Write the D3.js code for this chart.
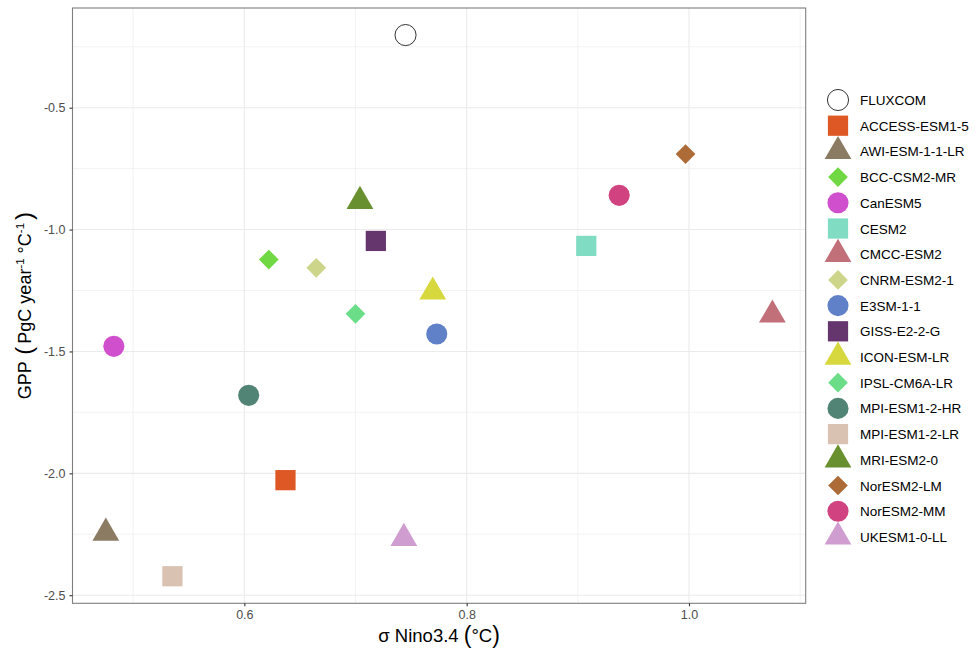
<!DOCTYPE html>
<html>
<head>
<meta charset="utf-8">
<script src="https://cdn.jsdelivr.net/npm/d3@7"></script>
<style>
  html, body { margin: 0; padding: 0; background: #fff; }
  svg { display: block; font-family: "Liberation Sans", Arial, sans-serif; }
</style>
</head>
<body>
<svg id="chart" width="976" height="651"></svg>
<script>
// ENSO amplitude vs GPP sensitivity, one point per model / FLUXCOM
const models = ['FLUXCOM', 'ACCESS-ESM1-5', 'AWI-ESM-1-1-LR', 'BCC-CSM2-MR', 'CanESM5', 'CESM2',
	'CMCC-ESM2', 'CNRM-ESM2-1', 'E3SM-1-1', 'GISS-E2-2-G', 'ICON-ESM-LR', 'IPSL-CM6A-LR',
	'MPI-ESM1-2-HR', 'MPI-ESM1-2-LR', 'MRI-ESM2-0', 'NorESM2-LM', 'NorESM2-MM', 'UKESM1-0-LL'];
const ninoSd = [0.745, 0.637, 0.4754, 0.622, 0.4826, 0.9076,
	1.075, 0.6647, 0.7731, 0.7183, 0.7695, 0.700,
	0.6039, 0.5353, 0.704, 0.9969, 0.9372, 0.7435];
const gppSens = [-0.202, -2.028, -2.2445, -1.123, -1.479, -1.067,
	-1.350, -1.157, -1.4286, -1.0466, -1.2554, -1.3455,
	-1.680, -2.4222, -0.884, -0.6904, -0.8595, -2.2662];
const shapes = ['open', 'square', 'triangle', 'diamond', 'circle', 'square',
	'triangle', 'diamond', 'circle', 'square', 'triangle', 'diamond',
	'circle', 'square', 'triangle', 'diamond', 'circle', 'triangle'];
const colors = ['#000000', '#DD5825', '#8A7B62', '#6FD842', '#CF4FCC', '#80DDC4',
	'#C1707A', '#CDD58B', '#6081C8', '#65366E', '#D7D83E', '#6BDD88',
	'#518474', '#D9C2B2', '#69902F', '#AD6B38', '#D14380', '#CF9DCF'];
const xTicks = [0.6, 0.8, 1.0];
const xMinor = [0.5, 0.7, 0.9, 1.1];
const yTicks = [-0.5, -1.0, -1.5, -2.0, -2.5];
const yMinor = [-0.25, -0.75, -1.25, -1.75, -2.25];

const data = models.map((m, i) => ({ model: m, x: ninoSd[i], y: gppSens[i], shape: shapes[i], color: colors[i] }));

const svg = d3.select('#chart');
const panel = { left: 72.5, right: 805.7, top: 8, bottom: 603.3 };

// ggplot-style 5% expansion of the data range
const expand = ext => { const p = (ext[1] - ext[0]) * 0.05; return [ext[0] - p, ext[1] + p]; };
const x = d3.scaleLinear().domain(expand(d3.extent(ninoSd))).range([panel.left, panel.right]);
const y = d3.scaleLinear().domain(expand(d3.extent(gppSens))).range([panel.bottom, panel.top]);

const symbolPath = (shape) => {
	if (shape === 'triangle') return d3.symbol(d3.symbolTriangle, 310)();
	if (shape === 'square') return d3.symbol(d3.symbolSquare, 410)();
	if (shape === 'diamond') return d3.symbol(d3.symbolSquare, 194)();
	return d3.symbol(d3.symbolCircle, 350)();
};
const drawSymbol = (sel, d) => {
	const p = sel.append('path').attr('d', symbolPath(d.shape));
	if (d.shape === 'diamond') p.attr('transform', 'rotate(45)');
	if (d.shape === 'open') p.attr('fill', 'none').attr('stroke', '#000').attr('stroke-width', 0.8);
	else p.attr('fill', d.color);
};

// Grid
const grid = svg.append('g');
grid.selectAll('line.ymin').data(yMinor).join('line')
	.attr('x1', panel.left).attr('x2', panel.right).attr('y1', d => y(d)).attr('y2', d => y(d))
	.attr('stroke', '#ebebeb').attr('stroke-width', 0.6);
grid.selectAll('line.xmin').data(xMinor).join('line')
	.attr('y1', panel.top).attr('y2', panel.bottom).attr('x1', d => x(d)).attr('x2', d => x(d))
	.attr('stroke', '#ebebeb').attr('stroke-width', 0.6);
grid.selectAll('line.ymaj').data(yTicks).join('line')
	.attr('x1', panel.left).attr('x2', panel.right).attr('y1', d => y(d)).attr('y2', d => y(d))
	.attr('stroke', '#ebebeb').attr('stroke-width', 1.1);
grid.selectAll('line.xmaj').data(xTicks).join('line')
	.attr('y1', panel.top).attr('y2', panel.bottom).attr('x1', d => x(d)).attr('x2', d => x(d))
	.attr('stroke', '#ebebeb').attr('stroke-width', 1.1);

// Points
data.forEach(d => {
	const g = svg.append('g').attr('transform', 'translate(' + x(d.x) + ',' + y(d.y) + ')');
	drawSymbol(g, d);
});

// Panel border
svg.append('rect')
	.attr('x', panel.left).attr('y', panel.top)
	.attr('width', panel.right - panel.left).attr('height', panel.bottom - panel.top)
	.attr('fill', 'none').attr('stroke', '#7f7f7f').attr('stroke-width', 1.1);

// Axes (labels use a plain hyphen like R does)
const fmt = v => v.toFixed(1);
const styleAxis = ax => {
	ax.select('.domain').remove();
	ax.selectAll('line').attr('stroke', '#333').attr('stroke-width', 1.1);
	ax.selectAll('text').attr('font-size', 12.5).attr('fill', '#4d4d4d')
		.attr('font-family', '"Liberation Sans", Arial, sans-serif');
};
svg.append('g')
	.attr('transform', 'translate(0,' + panel.bottom + ')')
	.call(d3.axisBottom(x).tickValues(xTicks).tickFormat(fmt).tickSize(3).tickPadding(4))
	.call(styleAxis);
svg.append('g')
	.attr('transform', 'translate(' + panel.left + ',0)')
	.call(d3.axisLeft(y).tickValues(yTicks).tickFormat(fmt).tickSize(3).tickPadding(4))
	.call(styleAxis);

// Axis titles
const xt = svg.append('text')
	.attr('x', (panel.left + panel.right) / 2).attr('y', 642)
	.attr('text-anchor', 'middle').attr('font-size', 18.5).attr('fill', '#000');
xt.append('tspan').text('σ Nino3.4 ');
xt.append('tspan').attr('font-size', 23).attr('dy', 1).text('(');
xt.append('tspan').attr('dy', -1).text('°C');
xt.append('tspan').attr('font-size', 23).attr('dy', 1).text(')');

const yt = svg.append('text')
	.attr('transform', 'translate(31,' + ((panel.top + panel.bottom) / 2) + ') rotate(-90)')
	.attr('text-anchor', 'middle').attr('font-size', 18).attr('fill', '#000');
yt.append('tspan').text('GPP ');
yt.append('tspan').attr('font-size', 24).attr('dy', 1).attr('dx', 2).text('(');
yt.append('tspan').attr('dy', -1).attr('dx', 3).text('PgC year');
yt.append('tspan').attr('font-size', 11.5).attr('dy', -7).text('-1');
yt.append('tspan').attr('dy', 7).text(' °C');
yt.append('tspan').attr('font-size', 11.5).attr('dy', -7).text('-1');
yt.append('tspan').attr('font-size', 24).attr('dy', 8).attr('dx', 3).text(')');

// Legend
const legend = svg.append('g').attr('transform', 'translate(838,100)');
data.forEach((d, i) => {
	const row = legend.append('g').attr('transform', 'translate(0,' + (i * 25.7) + ')');
	drawSymbol(row, d);
	row.append('text').attr('x', 22).attr('y', 5).attr('font-size', 13.5).attr('fill', '#000')
		.text(d.model);
});
</script>
</body>
</html>
